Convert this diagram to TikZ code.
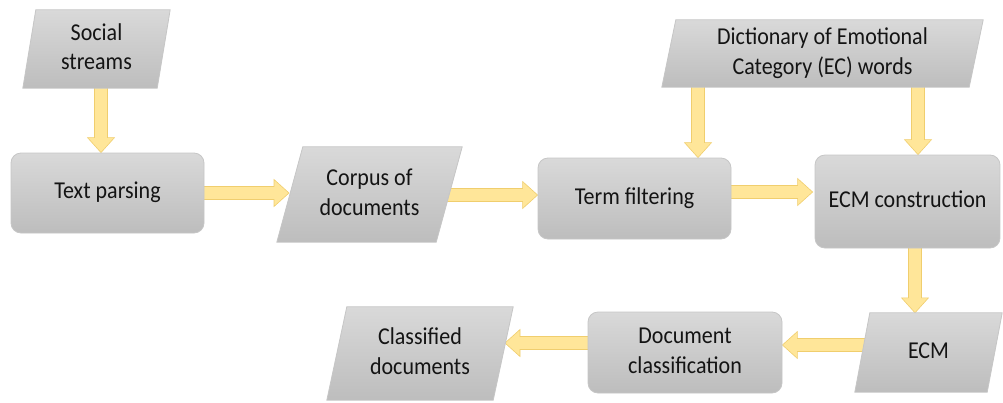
\documentclass[tikz,border=0pt]{standalone}
\usepackage{fontspec}
\usepackage{graphicx}
\setmainfont{Carlito}
\usetikzlibrary{calc}
\definecolor{boxtop}{HTML}{D9D9D9}
\definecolor{boxbot}{HTML}{BDBDBD}
\definecolor{boxline}{HTML}{C6C6C6}
\definecolor{arrfill}{HTML}{FFE699}
\definecolor{arrline}{HTML}{F0CE6E}
\definecolor{txt}{HTML}{141414}
\pgfdeclarelayer{arrowlayer}
\pgfdeclarelayer{shapelayer}
\pgfsetlayers{arrowlayer,shapelayer,main}
\newcommand\bsw{6.5pt}
\newcommand\bhw{13.5pt}
\newcommand\bhl{15pt}
% vertically stretched text block
\newcommand\tx[1]{\scalebox{1}[1.1]{\begin{tabular}{@{}c@{}}#1\end{tabular}}}
% down arrow: #1 start, #2 tip
\newcommand\arrD[2]{\begin{pgfonlayer}{arrowlayer}\path[barrow] let \p1=(#1), \p2=(#2) in
  (\x2-\bsw,\y1) -- (\x2-\bsw,\y2+\bhl) -- (\x2-\bhw,\y2+\bhl) -- (\x2,\y2) -- (\x2+\bhw,\y2+\bhl) -- (\x2+\bsw,\y2+\bhl) -- (\x2+\bsw,\y1) -- cycle;\end{pgfonlayer}}
% right arrow
\newcommand\arrR[2]{\begin{pgfonlayer}{arrowlayer}\path[barrow] let \p1=(#1), \p2=(#2) in
  (\x1,\y2-\bsw) -- (\x2-\bhl,\y2-\bsw) -- (\x2-\bhl,\y2-\bhw) -- (\x2,\y2) -- (\x2-\bhl,\y2+\bhw) -- (\x2-\bhl,\y2+\bsw) -- (\x1,\y2+\bsw) -- cycle;\end{pgfonlayer}}
% left arrow
\newcommand\arrL[2]{\begin{pgfonlayer}{arrowlayer}\path[barrow] let \p1=(#1), \p2=(#2) in
  (\x1,\y2-\bsw) -- (\x2+\bhl,\y2-\bsw) -- (\x2+\bhl,\y2-\bhw) -- (\x2,\y2) -- (\x2+\bhl,\y2+\bhw) -- (\x2+\bhl,\y2+\bsw) -- (\x1,\y2+\bsw) -- cycle;\end{pgfonlayer}}
% parallelogram behind a node: #1 node, #2 slant
\newcommand\para[2]{\begin{pgfonlayer}{shapelayer}\path[parashape] ($(#1.north west)+(#2,0)$) -- (#1.north east) -- ($(#1.south east)+(-#2,0)$) -- (#1.south west) -- cycle;\end{pgfonlayer}}
\begin{document}
\begin{tikzpicture}[x=1pt,y=-1pt,
  txtstyle/.style={font=\fontsize{22}{27}\selectfont, text=txt, inner sep=0pt},
  procbox/.style={txtstyle, rectangle, rounded corners=10pt, draw=boxline, line width=0.8pt, top color=boxtop, bottom color=boxbot},
  iobox/.style={txtstyle, rectangle},
  parashape/.style={draw=boxline, line width=0.8pt, top color=boxtop, bottom color=boxbot},
  barrow/.style={fill=arrfill, draw=arrline, line width=0.6pt}]
\useasboundingbox (0,0) rectangle (1003,402);
\node[iobox, minimum width=147pt, minimum height=78pt] (ss) at (96.5,49) {\tx{Social\\streams}};
\node[procbox, minimum width=193pt, minimum height=80pt] (tp) at (107.5,193) {\tx{Text parsing}};
\node[iobox, minimum width=185pt, minimum height=95pt] (cd) at (369.5,194.5) {\tx{Corpus of\\documents}};
\node[procbox, minimum width=193pt, minimum height=81pt] (tf) at (634.5,198.5) {\tx{Term filtering}};
\node[iobox, minimum width=321pt, minimum height=67pt] (dict) at (822.5,53.5) {\tx{Dictionary of Emotional\\Category (EC) words}};
\node[procbox, minimum width=185pt, minimum height=93pt] (ecmc) at (907.5,201.5) {\tx{ECM construction}};
\node[iobox, minimum width=147pt, minimum height=79pt] (ecm) at (928.5,352.5) {\tx{ECM}};
\node[procbox, minimum width=194pt, minimum height=81pt] (dc) at (685,352.5) {\tx{Document\\classification}};
\node[iobox, minimum width=186pt, minimum height=93pt] (cl) at (420,353.5) {\tx{Classified\\documents}};
\para{ss}{13}
\para{cd}{26}
\para{dict}{14}
\para{ecm}{15}
\para{cl}{20}
\arrD{ss.center}{$(tp.north)+(-6.5,0)$}
\arrR{tp.center}{$(cd.center)+(-80.5,-1.5)$}
\arrR{cd.center}{$(tf.west)+(0,-3.5)$}
\arrD{dict.center}{$(tf.north)+(63.5,0)$}
\arrD{dict.center}{$(ecmc.north)+(10.5,0)$}
\arrR{tf.center}{$(ecmc.west)+(-2,-9.5)$}
\arrD{ecmc.center}{$(ecm.north)+(-13.5,0)$}
\arrL{ecm.center}{$(dc.east)+(0,-7.5)$}
\arrL{dc.center}{$(cl.center)+(85,-10.5)$}
\end{tikzpicture}
\end{document}
